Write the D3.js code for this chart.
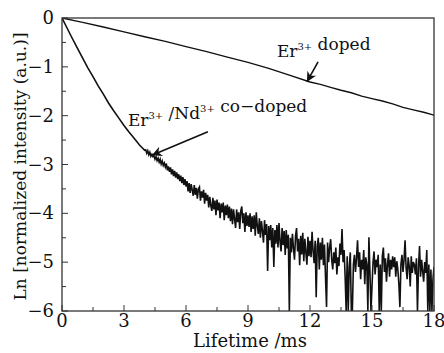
<!DOCTYPE html>
<html lang="en">
<head>
    <meta charset="UTF-8">
    <title>Lifetime decay</title>
    <script src="https://d3js.org/d3.v7.min.js"></script>
    <style>
        html,
        body {
            margin: 0;
            background: #fff;
            overflow: hidden;
        }
        svg {
            display: block;
        }
        text {
            font-family: "DejaVu Serif", serif;
            fill: #111;
        }
    </style>
</head>
<body>
    <svg id="svg"></svg>
    <script>
        // Er3+ doped: near straight decay
        const erTime = [0, 1, 2, 3, 4, 5, 6, 7, 8, 9, 10, 11, 12, 12.5, 13, 13.5, 14, 14.5, 15, 15.5, 16, 16.5, 17, 17.5, 18];
        const erValue = [0, -0.09, -0.185, -0.285, -0.385, -0.48, -0.585, -0.69, -0.8, -0.91, -1.03, -1.17, -1.31,
            -1.36, -1.42, -1.48, -1.53, -1.6, -1.65, -1.7, -1.76, -1.83, -1.88, -1.93, -1.99];

        // Er3+/Nd3+ co-doped, smooth start (0 .. 4 ms, step 0.25)
        const coTime = [0, 0.25, 0.5, 0.75, 1, 1.25, 1.5, 1.75, 2, 2.25, 2.5, 2.75, 3, 3.25, 3.5, 3.75, 4];
        const coValue = [0, -0.21, -0.42, -0.62, -0.82, -1.02, -1.2, -1.39, -1.56, -1.74, -1.9, -2.05, -2.2,
            -2.34, -2.47, -2.6, -2.71];

        // noisy tail, 4.05 .. 18.00 ms every 0.05 ms (one row per ms)
        const tailStart = 4.05;
        const tailStep = 0.05;
        const coTail = [
            -2.70, -2.77, -2.72, -2.80, -2.75, -2.83, -2.79, -2.84, -2.82, -2.89, -2.84, -2.92, -2.87, -2.95, -2.89, -2.99, -2.93, -3.02, -2.97, -3.05,
            -2.98, -3.12, -3.04, -3.15, -3.06, -3.20, -3.10, -3.24, -3.13, -3.27, -3.16, -3.30, -3.20, -3.34, -3.23, -3.38, -3.26, -3.42, -3.30, -3.45,
            -3.34, -3.55, -3.38, -3.58, -3.40, -3.52, -3.64, -3.42, -3.62, -3.48, -3.70, -3.50, -3.46, -3.74, -3.55, -3.68, -3.52, -3.80, -3.58, -3.74,
            -3.62, -3.88, -3.66, -3.84, -3.95, -3.68, -3.92, -3.74, -4.04, -3.72, -3.94, -3.78, -4.10, -3.80, -3.98, -3.78, -4.14, -3.84, -4.04, -3.82,
            -4.10, -3.86, -4.16, -3.90, -4.22, -3.92, -4.12, -4.30, -3.92, -4.18, -3.98, -4.32, -3.95, -3.86, -4.20, -4.00, -4.38, -3.98, -4.26, -4.04,
            -4.28, -4.00, -4.38, -4.06, -4.32, -4.04, -4.46, -3.98, -4.26, -4.42, -4.10, -4.50, -4.16, -4.36, -4.60, -4.14, -4.44, -4.22, -5.18, -4.26,
            -4.55, -4.24, -4.70, -4.30, -5.10, -4.34, -4.62, -4.24, -4.70, -4.20, -4.58, -4.78, -4.30, -4.65, -4.36, -4.85, -4.34, -4.72, -4.44, -6.00,
            -4.50, -4.80, -4.42, -4.72, -4.95, -4.46, -4.30, -4.78, -4.52, -5.06, -4.46, -4.84, -4.40, -4.98, -4.52, -4.80, -5.05, -4.48, -4.88, -4.56,
            -4.90, -4.38, -4.78, -5.02, -4.56, -5.72, -4.66, -4.50, -5.15, -4.60, -4.95, -4.50, -5.06, -4.64, -5.30, -5.92, -4.60, -5.00, -4.70, -4.53,
            -4.95, -5.15, -4.80, -5.02, -4.70, -5.25, -4.90, -5.08, -4.62, -4.85, -4.32, -5.00, -4.75, -5.30, -6.00, -4.88, -6.00, -5.10, -4.80, -6.00,
            -6.00, -5.05, -4.85, -5.20, -4.92, -4.55, -5.10, -4.80, -5.35, -4.95, -5.15, -4.75, -5.45, -4.90, -5.05, -6.00, -4.49, -5.20, -6.00, -5.50,
            -5.00, -4.78, -5.25, -4.95, -5.10, -4.85, -6.00, -5.05, -6.00, -4.88, -4.70, -5.20, -4.92, -5.40, -5.05, -4.82, -5.30, -4.95, -5.15, -4.88,
            -5.10, -4.90, -5.30, -4.98, -5.15, -5.45, -5.92, -5.05, -4.85, -5.20, -4.95, -4.55, -5.12, -5.35, -4.90, -5.08, -5.50, -4.88, -5.22, -5.00,
            -5.05, -5.25, -4.92, -6.00, -5.10, -4.67, -5.30, -4.95, -5.18, -5.40, -5.00, -5.22, -4.75, -6.00, -5.05, -6.00, -5.15, -6.00, -5.35, -5.10
        ];

        const xTicks = [0, 3, 6, 9, 12, 15, 18];
        const yTicks = [0, -1, -2, -3, -4, -5, -6];

        const width = 444;
        const height = 353;
        const margin = { top: 18, left: 62, bottom: 42, right: 10 };
        const innerWidth = width - margin.left - margin.right;
        const innerHeight = height - margin.top - margin.bottom;

        const svg = d3.select('#svg').attr('width', width).attr('height', height);

        svg.append('defs').append('marker')
            .attr('id', 'head')
            .attr('viewBox', '0 0 10 10')
            .attr('refX', 10).attr('refY', 5)
            .attr('markerWidth', 11).attr('markerHeight', 10)
            .attr('markerUnits', 'userSpaceOnUse')
            .attr('orient', 'auto')
            .append('path').attr('d', 'M0,0 L10,5 L0,10 L3,5 Z').attr('fill', '#111');

        svg.select('defs').append('clipPath').attr('id', 'clip')
            .append('rect').attr('width', innerWidth).attr('height', innerHeight);

        const g = svg.append('g').attr('transform', `translate(${margin.left}, ${margin.top})`);

        const x = d3.scaleLinear().domain([0, 18]).range([0, innerWidth]);
        const y = d3.scaleLinear().domain([-6, 0]).range([innerHeight, 0]);

        const erData = erTime.map((t, i) => [t, erValue[i]]);
        const coData = coTime.map((t, i) => [t, coValue[i]])
            .concat(coTail.map((v, i) => [tailStart + i * tailStep, v]));

        const line = d3.line().x(d => x(d[0])).y(d => y(d[1]));

        const plot = g.append('g').attr('clip-path', 'url(#clip)');
        plot.append('path').datum(coData)
            .attr('d', line).attr('fill', 'none').attr('stroke', '#111').attr('stroke-width', 1.6);
        plot.append('path').datum(erData)
            .attr('d', line).attr('fill', 'none').attr('stroke', '#111').attr('stroke-width', 1.4);

        // minor + major ticks, pointing inward
        const minorX = d3.range(1.5, 18, 3);
        const minorY = d3.range(-5.5, 0, 1);
        const tickG = g.append('g').attr('stroke', '#333').attr('stroke-width', 1);
        tickG.selectAll('.xt').data(xTicks.concat(minorX)).join('line')
            .attr('x1', d => x(d)).attr('x2', d => x(d))
            .attr('y1', innerHeight).attr('y2', d => innerHeight - (xTicks.includes(d) ? 6 : 4));
        tickG.selectAll('.yt').data(yTicks.concat(minorY)).join('line')
            .attr('y1', d => y(d)).attr('y2', d => y(d))
            .attr('x1', 0).attr('x2', d => (yTicks.includes(d) ? 6 : 4));

        g.append('rect').attr('width', innerWidth).attr('height', innerHeight)
            .attr('fill', 'none').attr('stroke', '#333').attr('stroke-width', 1.3);

        g.selectAll('.xl').data(xTicks).join('text')
            .attr('x', d => x(d)).attr('y', innerHeight + 16)
            .attr('text-anchor', 'middle').attr('font-size', 18)
            .text(d => d);
        g.selectAll('.yl').data(yTicks).join('text')
            .attr('x', -8).attr('y', d => y(d) + 6)
            .attr('text-anchor', 'end').attr('font-size', 18)
            .text(d => (d < 0 ? '\u2212' + (-d) : d));

        g.append('text')
            .attr('x', innerWidth / 2 + 2).attr('y', innerHeight + 36)
            .attr('text-anchor', 'middle').attr('font-size', 18)
            .text('Lifetime /ms');
        svg.append('text')
            .attr('transform', `translate(26, ${margin.top + innerHeight / 2 + 2}) rotate(-90)`)
            .attr('text-anchor', 'middle').attr('font-size', 17)
            .text('Ln [normalized intensity (a.u.)]');

        // labels with arrows
        const sup = (sel, parts) => {
            parts.forEach(p => {
                if (p.sup) {
                    sel.append('tspan').attr('font-size', 10).attr('dy', -7).text(p.t);
                    sel.append('tspan').attr('dy', 7).text('');
                } else {
                    sel.append('tspan').text(p.t);
                }
            });
        };
        const t1 = g.append('text').attr('x', x(10.4)).attr('y', y(-0.8)).attr('font-size', 17);
        sup(t1, [{ t: 'Er' }, { t: '3+', sup: true }, { t: ' doped' }]);
        const t2 = g.append('text').attr('x', x(3.19)).attr('y', y(-2.21)).attr('font-size', 17);
        sup(t2, [{ t: 'Er' }, { t: '3+', sup: true }, { t: ' /Nd' }, { t: '3+', sup: true }, { t: ' co\u2212doped' }]);

        g.append('line')
            .attr('x1', x(12.39)).attr('y1', y(-0.9)).attr('x2', x(11.85)).attr('y2', y(-1.31))
            .attr('stroke', '#111').attr('stroke-width', 1.6).attr('marker-end', 'url(#head)');
        g.append('line')
            .attr('x1', x(7.06)).attr('y1', y(-2.33)).attr('x2', x(4.35)).attr('y2', y(-2.81))
            .attr('stroke', '#111').attr('stroke-width', 1.6).attr('marker-end', 'url(#head)');
    </script>
</body>
</html>
